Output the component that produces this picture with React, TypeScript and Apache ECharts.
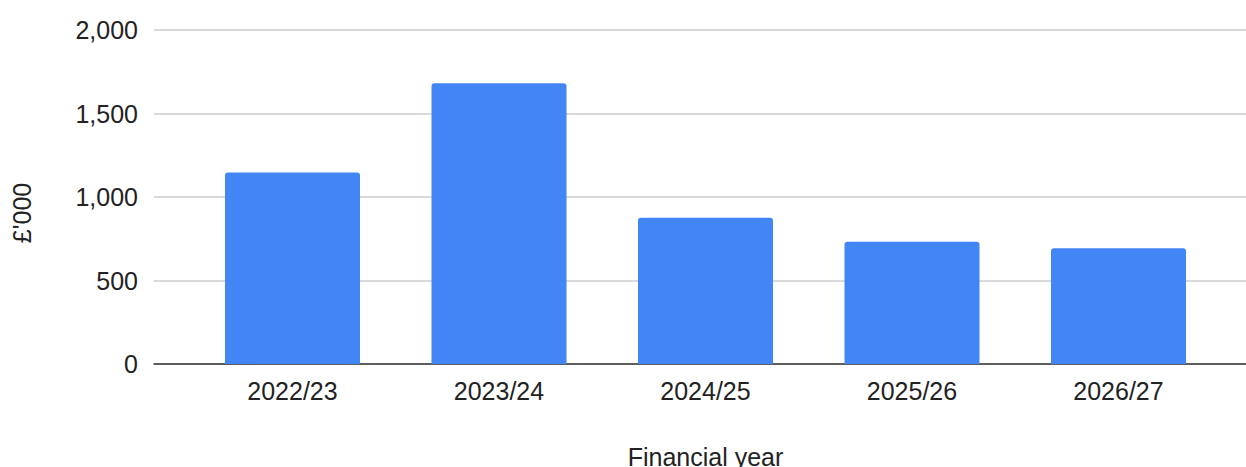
import React, { useEffect, useRef } from "react";
import * as echarts from "echarts";

const categories = ["2022/23", "2023/24", "2024/25", "2025/26", "2026/27"];
const values = [1146, 1681, 876, 732, 693];
const yTicks = [0, 500, 1000, 1500, 2000];

const FONT = "'Liberation Sans', Arial, sans-serif";

export default function App() {
  const ref = useRef<HTMLDivElement>(null);
  useEffect(() => {
    document.body.style.margin = "0";
    if (!ref.current) return;
    const chart = echarts.init(ref.current, null, { renderer: "svg" });
    const yMax = yTicks[yTicks.length - 1];
    const step = yTicks[1] - yTicks[0];
    chart.setOption({
      animation: false,
      backgroundColor: "#ffffff",
      textStyle: { fontFamily: FONT },
      grid: [
        { left: 154, right: 0, top: 30, bottom: 103, containLabel: false, outerBoundsMode: "none" },
        { left: 189.25, right: 24.25, top: 30, bottom: 103, containLabel: false, outerBoundsMode: "none" },
      ],
      xAxis: [
        {
          gridIndex: 0,
          type: "value",
          min: 0,
          max: 1,
          axisLabel: { show: false },
          axisTick: { show: false },
          splitLine: { show: false },
          axisLine: { show: true, lineStyle: { color: "#333333", width: 1.5 } },
        },
        {
          gridIndex: 1,
          type: "category",
          data: categories,
          axisLine: { show: false },
          axisTick: { show: false },
          axisLabel: { fontSize: 25, color: "#222222", margin: 14, fontFamily: FONT },
          name: "Financial year",
          nameLocation: "middle",
          nameGap: 80,
          nameTextStyle: { fontSize: 25, color: "#222222", fontFamily: FONT },
        },
      ],
      yAxis: [
        {
          gridIndex: 0,
          type: "value",
          min: 0,
          max: yMax,
          interval: step,
          axisLine: { show: false },
          axisTick: { show: false },
          axisLabel: {
            fontSize: 25,
            color: "#222222",
            margin: 16,
            fontFamily: FONT,
            formatter: (v: number) => v.toLocaleString("en-GB"),
          },
          splitLine: { show: true, lineStyle: { color: "#cccccc", width: 1.5 } },
        },
        {
          gridIndex: 1,
          type: "value",
          min: 0,
          max: yMax,
          interval: step,
          show: false,
          splitLine: { show: false },
        },
      ],
      graphic: [
        {
          type: "text",
          x: 22,
          y: 213,
          rotation: Math.PI / 2,
          style: {
            text: "£'000",
            fontSize: 25,
            fill: "#222222",
            fontFamily: FONT,
            align: "center",
            verticalAlign: "middle",
          },
        },
      ],
      series: [
        {
          type: "bar",
          xAxisIndex: 1,
          yAxisIndex: 1,
          data: values,
          barWidth: 135,
          itemStyle: { color: "#4285F4", borderRadius: [3, 3, 0, 0] },
        },
      ],
    });
    return () => chart.dispose();
  }, []);
  return <div ref={ref} style={{ width: 1246, height: 467 }} />;
}
